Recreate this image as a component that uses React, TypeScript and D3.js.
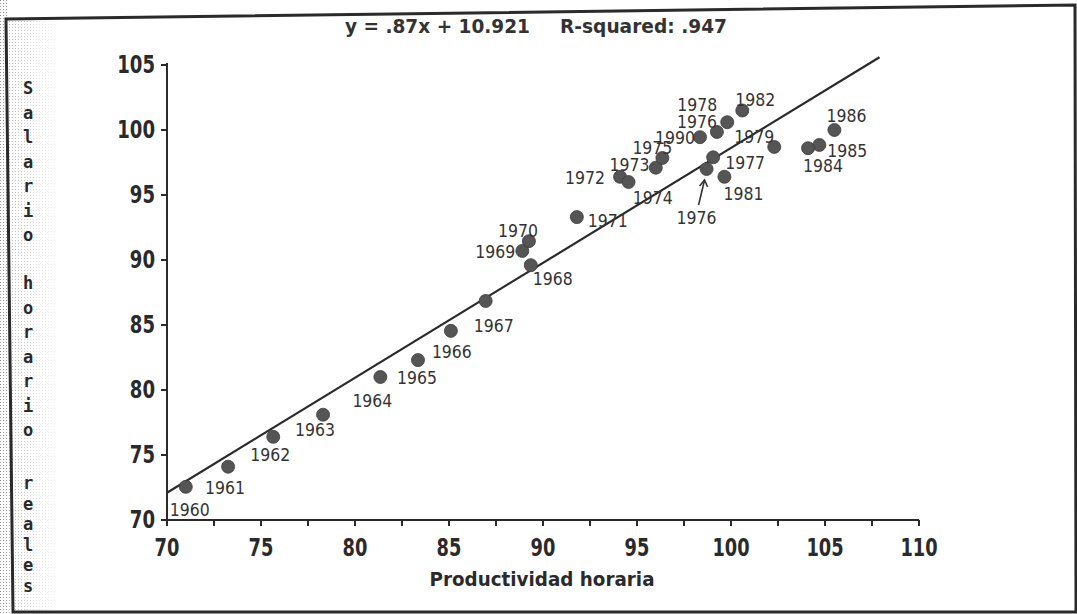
import React from "react";
import * as d3 from "d3";

// ---- data ----
const years = [
  "1960", "1961", "1962", "1963", "1964", "1965", "1966", "1967", "1968", "1969",
  "1970", "1971", "1972", "1973", "1974", "1975", "1990", "1976", "1978", "1982",
  "1979", "1977", "1981", "1976", "1986", "1985", "1984",
];
const productivity = [
  71.0, 73.25, 75.65, 78.3, 81.35, 83.35, 85.1, 86.95, 89.35, 88.9,
  89.25, 91.8, 94.1, 94.55, 96.0, 96.35, 98.35, 99.25, 99.8, 100.6,
  102.3, 99.05, 99.65, 98.7, 105.5, 104.7, 104.1,
];
const wages = [
  72.55, 74.1, 76.4, 78.1, 81.0, 82.3, 84.55, 86.85, 89.6, 90.7,
  91.45, 93.3, 96.4, 96.0, 97.1, 97.85, 99.45, 99.85, 100.6, 101.5,
  98.7, 97.9, 96.4, 97.0, 100.0, 98.85, 98.6,
];
const xTicks = [70, 75, 80, 85, 90, 95, 100, 105, 110];
const yTicks = [70, 75, 80, 85, 90, 95, 100, 105];
const minorXTicks = d3.range(70, 110.01, 2.5);
const fitX = [70, 107.9];
const fitY = [72.1, 105.6];
const titleParts = ["y = .87x + 10.921", "R-squared: .947"];
const xTitle = "Productividad horaria";
const yTitleWords = ["Salario", "horario", "reales"];

// ---- layout ----
const W = 1077;
const H = 614;
// label offsets (left edge dx, centre dy) relative to each point, in px
const labelOffsets: [number, number][] = [
  [-16, 23], [-23, 21], [-23, 18], [-28, 15], [-28, 23], [-21, 17], [-19, 21], [-12, 25],
  [2, 13], [-47, 1], [-31, -11], [11, 3], [-55, 1], [-19, -18], [-23, 30], [-30, -10],
  [-45, 0], [-40, -10], [-50, -18], [-7, -11], [-40, -10], [12, 5], [-1, 17], [-30, 48],
  [-8, -15], [8, 6], [-5, 17],
];
const arrowIndex = 23;
const ink = "#2a2a2a";

export default function App() {
  const x = d3.scaleLinear().domain([70, 110]).range([167, 919]);
  const y = d3.scaleLinear().domain([70, 105]).range([520, 65]);
  const line = d3
    .line<number>()
    .x((d) => x(fitX[d]))
    .y((d) => y(fitY[d]));

  const yWordStarts = [88, 283, 483];
  const yWordSteps = [24.5, 24.5, 20.5];

  return (
    <svg
      width={W}
      height={H}
      viewBox={`0 0 ${W} ${H}`}
      style={{ position: "absolute", left: 0, top: 0, display: "block", background: "#fff" }}
    >
      <defs>
        <pattern id="dots" width="3" height="3" patternUnits="userSpaceOnUse">
          <rect x="0" y="0" width="1" height="1" fill="#9a9a9a" />
        </pattern>
        <linearGradient id="fade" x1="0" x2="1" y1="0" y2="0">
          <stop offset="0" stopColor="#fff" stopOpacity="0" />
          <stop offset="1" stopColor="#fff" stopOpacity="1" />
        </linearGradient>
      </defs>

      {/* scanned paper edge texture */}
      <rect x={0} y={0} width={7} height={H} fill="url(#dots)" />
      <rect x={8} y={18} width={52} height={H - 18} fill="url(#dots)" opacity={0.7} />
      <rect x={8} y={18} width={52} height={H - 18} fill="url(#fade)" />

      {/* frame */}
      <path d="M6,19 L1075,5 L1076,612 L13,612 Z" fill="none" stroke={ink} strokeWidth={3} />

      {/* title */}
      <text
        x={345}
        y={26}
        dominantBaseline="central"
        fontFamily="DejaVu Sans, sans-serif"
        fontWeight="bold"
        fontSize={19}
        textLength={185}
        lengthAdjust="spacingAndGlyphs"
        fill="#333"
      >
        {titleParts[0]}
      </text>
      <text
        x={560}
        y={26}
        dominantBaseline="central"
        fontFamily="DejaVu Sans, sans-serif"
        fontWeight="bold"
        fontSize={19}
        textLength={167}
        lengthAdjust="spacingAndGlyphs"
        fill="#333"
      >
        {titleParts[1]}
      </text>

      {/* y axis */}
      <line x1={x(70)} x2={x(70)} y1={y(105) - 2} y2={y(70) + 6} stroke={ink} strokeWidth={2} />
      {yTicks.map((t) => (
        <g key={"yt" + t}>
          <line x1={x(70) - 6} x2={x(70)} y1={y(t)} y2={y(t)} stroke={ink} strokeWidth={2} />
          <text
            x={155}
            y={y(t)}
            textAnchor="end"
            dominantBaseline="central"
            fontFamily="DejaVu Sans, sans-serif"
            fontWeight="bold"
            fontSize={24}
            textLength={String(t).length * 12.6}
            lengthAdjust="spacingAndGlyphs"
            fill={ink}
          >
            {t}
          </text>
        </g>
      ))}

      {/* x axis */}
      <line x1={x(70) - 4} x2={x(110)} y1={y(70)} y2={y(70)} stroke={ink} strokeWidth={2} />
      {minorXTicks.map((t) => (
        <line key={"xm" + t} x1={x(t)} x2={x(t)} y1={y(70)} y2={y(70) + 6} stroke={ink} strokeWidth={2} />
      ))}
      {xTicks.map((t) => (
        <text
          key={"xt" + t}
          x={x(t)}
          y={548}
          textAnchor="middle"
          dominantBaseline="central"
          fontFamily="DejaVu Sans, sans-serif"
          fontWeight="bold"
          fontSize={24}
          textLength={String(t).length * 12.4}
          lengthAdjust="spacingAndGlyphs"
          fill={ink}
        >
          {t}
        </text>
      ))}

      {/* x title */}
      <text
        x={542}
        y={579}
        textAnchor="middle"
        dominantBaseline="central"
        fontFamily="DejaVu Sans, sans-serif"
        fontWeight="bold"
        fontSize={20}
        textLength={225}
        lengthAdjust="spacingAndGlyphs"
        fill={ink}
      >
        {xTitle}
      </text>

      {/* y title, stacked letters */}
      {yTitleWords.map((w, wi) =>
        w.split("").map((ch, ci) => (
          <text
            key={"yl" + wi + "-" + ci}
            x={28}
            y={yWordStarts[wi] + ci * yWordSteps[wi]}
            textAnchor="middle"
            dominantBaseline="central"
            fontFamily="DejaVu Sans Mono, monospace"
            fontWeight="bold"
            fontSize={17}
            fill={ink}
          >
            {ch}
          </text>
        ))
      )}

      {/* regression line */}
      <path d={line([0, 1]) || ""} fill="none" stroke={ink} strokeWidth={2.2} />

      {/* points */}
      {productivity.map((p, i) => (
        <circle key={"pt" + i} cx={x(p)} cy={y(wages[i])} r={6.5} fill="#555" stroke="#3a3a3a" strokeWidth={0.8} />
      ))}

      {/* year labels */}
      {years.map((yr, i) => (
        <text
          key={"lb" + i}
          x={x(productivity[i]) + labelOffsets[i][0]}
          y={y(wages[i]) + labelOffsets[i][1]}
          dominantBaseline="central"
          fontFamily="DejaVu Sans, sans-serif"
          fontSize={18}
          textLength={40}
          lengthAdjust="spacingAndGlyphs"
          fill="#333"
        >
          {yr}
        </text>
      ))}

      {/* arrow for the lower 1976 label */}
      {(() => {
        const px = x(productivity[arrowIndex]);
        const py = y(wages[arrowIndex]);
        return (
          <g stroke="#333" strokeWidth={1.6} fill="none">
            <line x1={px - 8} y1={py + 36} x2={px - 2} y2={py + 11} />
            <polyline points={`${px - 7},${py + 17} ${px - 2},${py + 11} ${px + 1},${py + 18}`} />
          </g>
        );
      })()}
    </svg>
  );
}
